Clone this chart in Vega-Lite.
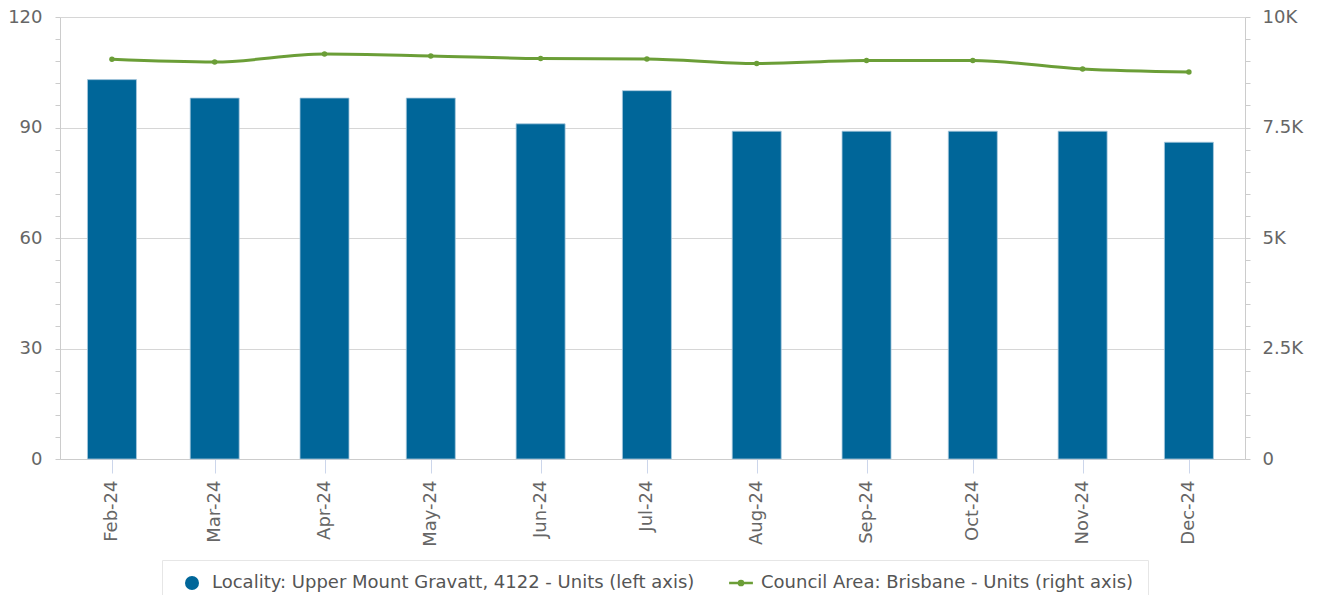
{
  "$schema": "https://vega.github.io/schema/vega-lite/v6.json",
  "width": 1185,
  "height": 442,
  "autosize": {"type": "none"},
  "padding": {"left": 60, "top": 17, "right": 72, "bottom": 136},
  "background": "white",
  "config": {
    "view": {"stroke": null},
    "font": "DejaVu Sans",
    "axis": {"labelFont": "DejaVu Sans", "labelColor": "#666666", "labelFontSize": 18, "domainColor": "#cccccc", "tickColor": "#cccccc", "gridColor": "#d6d6d6", "title": null}
  },
  "data": {
    "values": [
      {"month": "2024-02-01", "units": 103, "council": 9043},
      {"month": "2024-03-01", "units": 98, "council": 8982},
      {"month": "2024-04-01", "units": 98, "council": 9164},
      {"month": "2024-05-01", "units": 98, "council": 9119},
      {"month": "2024-06-01", "units": 91, "council": 9059},
      {"month": "2024-07-01", "units": 100, "council": 9050},
      {"month": "2024-08-01", "units": 89, "council": 8946},
      {"month": "2024-09-01", "units": 89, "council": 9014},
      {"month": "2024-10-01", "units": 89, "council": 9014},
      {"month": "2024-11-01", "units": 89, "council": 8824},
      {"month": "2024-12-01", "units": 86, "council": 8756}
    ]
  },
  "encoding": {
    "x": {
      "field": "month",
      "type": "temporal",
      "scale": {"type": "utc", "nice": false, "padding": 0, "domain": [{"year": 2024, "month": 1, "date": 17, "hours": 8, "utc": true}, {"year": 2024, "month": 12, "date": 16, "hours": 20, "utc": true}]},
      "axis": {
        "labelExpr": "utcFormat(datum.value, '%b-%y')",
        "labelAngle": -90,
        "values": [
          {"year": 2024, "month": 2, "date": 1, "utc": true},
          {"year": 2024, "month": 3, "date": 1, "utc": true},
          {"year": 2024, "month": 4, "date": 1, "utc": true},
          {"year": 2024, "month": 5, "date": 1, "utc": true},
          {"year": 2024, "month": 6, "date": 1, "utc": true},
          {"year": 2024, "month": 7, "date": 1, "utc": true},
          {"year": 2024, "month": 8, "date": 1, "utc": true},
          {"year": 2024, "month": 9, "date": 1, "utc": true},
          {"year": 2024, "month": 10, "date": 1, "utc": true},
          {"year": 2024, "month": 11, "date": 1, "utc": true},
          {"year": 2024, "month": 12, "date": 1, "utc": true}
        ],
        "grid": false,
        "tickSize": 14,
        "tickColor": "#ccd6eb",
        "labelPadding": 7,
        "labelOverlap": false,
        "labelFlush": false
      }
    }
  },
  "layer": [
    {
      "mark": {"type": "bar", "width": 49, "stroke": "#a9c9de", "strokeWidth": 0.8},
      "encoding": {
        "y": {
          "field": "units",
          "type": "quantitative",
          "scale": {"domain": [0, 120], "nice": false},
          "axis": {
            "orient": "left",
            "values": [0, 6, 12, 18, 24, 30, 36, 42, 48, 54, 60, 66, 72, 78, 84, 90, 96, 102, 108, 114, 120],
            "labelExpr": "datum.value % 30 === 0 ? datum.label : ''",
            "tickSize": 5,
            "labelPadding": 13,
            "grid": true,
            "gridOpacity": {"condition": {"test": "datum.value % 30 === 0", "value": 1}, "value": 0},
            "labelOverlap": false,
            "labelFlush": false
          }
        },
        "color": {
          "datum": "Locality: Upper Mount Gravatt, 4122 - Units (left axis)",
          "type": "nominal",
          "scale": {
            "domain": ["Locality: Upper Mount Gravatt, 4122 - Units (left axis)", "Council Area: Brisbane - Units (right axis)"],
            "range": ["#006699", "#6b9e37"]
          },
          "legend": {
            "orient": "none",
            "legendX": 102,
            "legendY": 543,
            "direction": "horizontal",
            "title": null,
            "labelFont": "DejaVu Sans",
            "labelFontSize": 18,
            "labelColor": "#555555",
            "labelLimit": 800,
            "symbolSize": 196,
            "labelOffset": 11,
            "columnPadding": 29,
            "padding": 14,
            "symbolOffset": 7,
            "strokeColor": "#e6e6e6",
            "fillColor": "#ffffff",
            "encode": {
              "symbols": {
                "update": {
                  "shape": {"signal": "datum.index === 1 ? 'M-1.7,0H1.7M-0.3,0A0.3,0.3 0 1 1 0.3,0A0.3,0.3 0 1 1 -0.3,0' : 'circle'"},
                  "strokeWidth": {"signal": "datum.index === 1 ? 2.5 : 0"},
                  "stroke": {"signal": "datum.index === 1 ? '#6b9e37' : '#006699'"},
                  "fill": {"signal": "datum.index === 1 ? '#6b9e37' : '#006699'"},
                  "opacity": {"value": 1}
                }
              }
            }
          }
        }
      }
    },
    {
      "encoding": {
        "y": {
          "field": "council",
          "type": "quantitative",
          "scale": {"domain": [0, 10000], "nice": false},
          "axis": {
            "orient": "right",
            "values": [0, 500, 1000, 1500, 2000, 2500, 3000, 3500, 4000, 4500, 5000, 5500, 6000, 6500, 7000, 7500, 8000, 8500, 9000, 9500, 10000],
            "labelExpr": "datum.value % 2500 === 0 ? (datum.value === 0 ? '0' : (datum.value / 1000) + 'K') : ''",
            "tickSize": 5,
            "labelPadding": 12,
            "grid": false,
            "labelOverlap": false,
            "labelFlush": false
          }
        },
        "color": {
          "datum": "Council Area: Brisbane - Units (right axis)",
          "type": "nominal",
          "legend": {
            "orient": "none",
            "legendX": 102,
            "legendY": 543,
            "direction": "horizontal",
            "title": null,
            "labelFont": "DejaVu Sans",
            "labelFontSize": 18,
            "labelColor": "#555555",
            "labelLimit": 800,
            "symbolSize": 196,
            "labelOffset": 11,
            "columnPadding": 29,
            "padding": 14,
            "symbolOffset": 7,
            "strokeColor": "#e6e6e6",
            "fillColor": "#ffffff",
            "encode": {
              "symbols": {
                "update": {
                  "shape": {"signal": "datum.index === 1 ? 'M-1.7,0H1.7M-0.3,0A0.3,0.3 0 1 1 0.3,0A0.3,0.3 0 1 1 -0.3,0' : 'circle'"},
                  "strokeWidth": {"signal": "datum.index === 1 ? 2.5 : 0"},
                  "stroke": {"signal": "datum.index === 1 ? '#6b9e37' : '#006699'"},
                  "fill": {"signal": "datum.index === 1 ? '#6b9e37' : '#006699'"},
                  "opacity": {"value": 1}
                }
              }
            }
          }
        }
      },
      "layer": [
        {"mark": {"type": "line", "interpolate": "monotone", "strokeWidth": 3}},
        {"mark": {"type": "point", "filled": true, "size": 30, "opacity": 1}}
      ]
    }
  ],
  "resolve": {"scale": {"y": "independent"}}
}
